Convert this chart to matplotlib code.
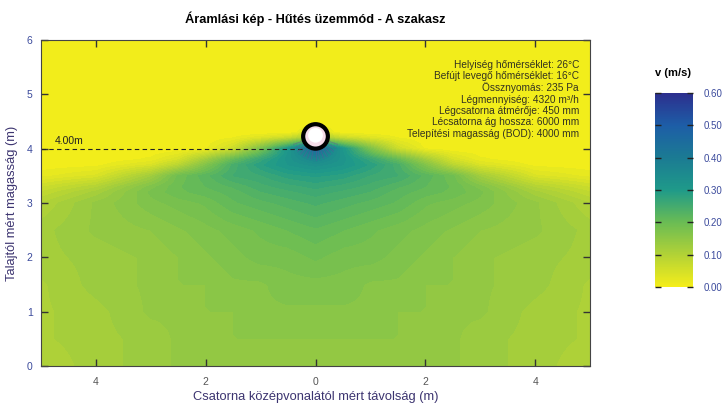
import numpy as np
import matplotlib
matplotlib.use("Agg")
import matplotlib.pyplot as plt
from matplotlib.colors import LinearSegmentedColormap, Normalize
from matplotlib.cm import ScalarMappable
from matplotlib.patches import Circle

plt.rcParams['font.family'] = ['Liberation Sans', 'DejaVu Sans']

# sebességmező (m/s) a csatorna egyik oldalán, a másik oldal tükörkép
x_half = [0, 0.5, 1, 1.5, 2, 2.5, 3, 4, 5]
y_rows = [0, 0.5, 1.0, 1.5, 2.0, 2.5, 3.0, 3.25, 3.5, 3.75, 4.0, 4.25, 4.5, 5.0, 6.0]
v_half = [
    [0.15, 0.15, 0.15, 0.15, 0.14, 0.14, 0.13, 0.12, 0.10],
    [0.15, 0.15, 0.15, 0.15, 0.15, 0.14, 0.13, 0.12, 0.11],
    [0.16, 0.16, 0.16, 0.15, 0.15, 0.14, 0.14, 0.12, 0.11],
    [0.17, 0.17, 0.16, 0.16, 0.15, 0.15, 0.14, 0.13, 0.11],
    [0.19, 0.18, 0.18, 0.17, 0.16, 0.15, 0.14, 0.13, 0.12],
    [0.21, 0.20, 0.19, 0.18, 0.17, 0.16, 0.15, 0.14, 0.12],
    [0.24, 0.23, 0.22, 0.21, 0.19, 0.18, 0.17, 0.14, 0.10],
    [0.26, 0.25, 0.24, 0.22, 0.21, 0.20, 0.18, 0.11, 0.07],
    [0.29, 0.28, 0.26, 0.25, 0.22, 0.19, 0.12, 0.04, 0.02],
    [0.34, 0.32, 0.29, 0.24, 0.15, 0.06, 0.02, 0.00, 0.00],
    [0.45, 0.31, 0.17, 0.06, 0.01, 0.00, 0.00, 0.00, 0.00],
    [0.05, 0.00, 0.00, 0.00, 0.00, 0.00, 0.00, 0.00, 0.00],
    [0.00, 0.00, 0.00, 0.00, 0.00, 0.00, 0.00, 0.00, 0.00],
    [0.00, 0.00, 0.00, 0.00, 0.00, 0.00, 0.00, 0.00, 0.00],
    [0.00, 0.00, 0.00, 0.00, 0.00, 0.00, 0.00, 0.00, 0.00],
]

duct_height = 4.0      # BOD (m)
duct_diameter = 0.45   # m

info_lines = [
    "Helyiség hőmérséklet: 26°C",
    "Befújt levegő hőmérséklet: 16°C",
    "Össznyomás: 235 Pa",
    "Légmennyiség: 4320 m³/h",
    "Légcsatorna átmérője: 450 mm",
    "Lécsatorna ág hossza: 6000 mm",
    "Telepítési magasság (BOD): 4000 mm",
]

cbar_ticks = [0.0, 0.1, 0.2, 0.3, 0.4, 0.5, 0.6]

# tükrözés
vh = np.array(v_half)
xs = np.concatenate([-np.array(x_half[:0:-1]), x_half])
V = np.hstack([vh[:, :0:-1], vh])

# bilineáris sűrítés a kontúrozáshoz
xf = np.linspace(-5, 5, 101)
yf = np.linspace(0, 6, 61)
Vx = np.array([np.interp(xf, xs, row) for row in V])
Vf = np.array([np.interp(yf, y_rows, col) for col in Vx.T]).T
X, Y = np.meshgrid(xf, yf)

cmap = LinearSegmentedColormap.from_list("vel", [
    (0.0, "#f5ee1a"), (1 / 6, "#b2d236"), (2 / 6, "#6abc54"),
    (3 / 6, "#1f9a89"), (4 / 6, "#1b7b93"), (5 / 6, "#1d5ea7"),
    (1.0, "#2c2f8e")])
norm = Normalize(0, 0.6)

fig = plt.figure(figsize=(7.27, 4.12), dpi=100)
ax = fig.add_axes([0.0564, 0.1117, 0.7552, 0.7913])

ax.contourf(X, Y, Vf, levels=np.arange(0, 0.6125, 0.0125), cmap=cmap, norm=norm)

# légcsatorna
yc = duct_height + duct_diameter / 2
r = duct_diameter / 2
for a in np.linspace(200, 340, 15):
    t = np.radians(a)
    ax.plot([r * np.cos(t), 1.9 * r * np.cos(t)], [yc + r * np.sin(t), yc + 1.9 * r * np.sin(t)],
            color="#6a4c9c", lw=0.5, alpha=0.5, zorder=4)
ax.add_patch(Circle((0, yc), r, facecolor="#f6dde8", edgecolor="black", lw=3, zorder=5))
ax.add_patch(Circle((0, yc + 0.02), r * 0.6, facecolor="white", edgecolor="none", zorder=6))

# szerelési magasság
ax.plot([-5, -r], [duct_height, duct_height], ls=(0, (4, 3)), color="#222222", lw=0.8)
ax.text(-4.75, duct_height + 0.05, "4.00m", fontsize=7.5, color="#222222", va="bottom")

ax.text(4.8, 5.64, "\n".join(info_lines), fontsize=7.3, ha="right", va="top",
        color="#333320", linespacing=1.17)

ax.set_xlim(-5, 5)
ax.set_ylim(0, 6)
ax.set_xticks([-4, -2, 0, 2, 4])
ax.set_xticklabels(["4", "2", "0", "2", "4"])
ax.set_yticks(range(7))
ax.tick_params(direction="in", top=True, right=True, length=5, width=1, labelsize=7.5)
ax.tick_params(axis="x", colors="#333333", labelcolor="#555555", pad=8)
ax.tick_params(axis="y", colors="#333333", labelcolor="#3b4a9c", pad=6)
for s in ax.spines.values():
    s.set_color("#444444")
    s.set_linewidth(0.8)

ax.set_title("Áramlási kép - Hűtés üzemmód - A szakasz", fontsize=9.2, fontweight="bold", pad=12)
ax.set_xlabel("Csatorna középvonalától mért távolság (m)", fontsize=9.3, color="#3c3470", labelpad=3)
ax.set_ylabel("Talajtól mért magasság (m)", fontsize=9.3, color="#3c3470", labelpad=6)

# színskála
cax = fig.add_axes([0.901, 0.303, 0.052, 0.471])
cb = fig.colorbar(ScalarMappable(norm=norm, cmap=cmap), cax=cax, ticks=cbar_ticks)
cb.outline.set_visible(False)
cb.ax.set_yticklabels([f"{t:.2f}" for t in cbar_ticks])
cb.ax.tick_params(direction="in", left=True, right=True, length=4, width=1, pad=8,
                  colors="#222222", labelcolor="#3b4a9c", labelsize=7)
cb.ax.set_title("v (m/s)", fontsize=8, fontweight="bold", pad=12, loc="left")

fig.savefig("out.png", dpi=100)
